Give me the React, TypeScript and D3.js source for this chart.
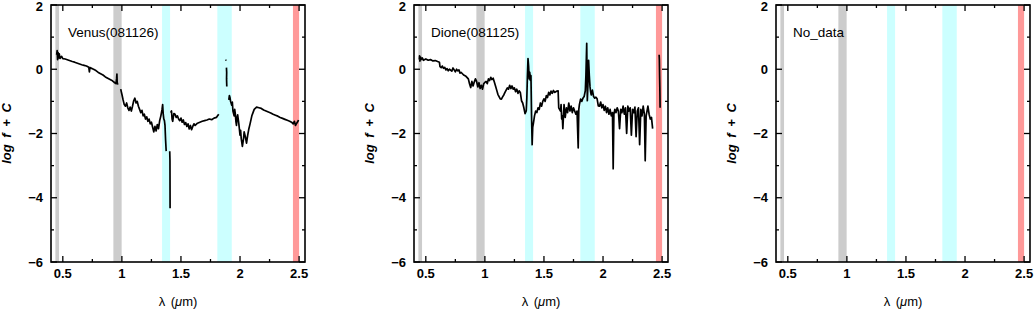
import React from 'react';
import * as d3 from 'd3';

// spectra: wavelength (um) and log flux, null = gap in the data
const venusLambda = [
  0.448, 0.452, 0.456, 0.46, 0.465, 0.47, 0.476, 0.49, 0.5, 0.52, 0.55, 0.58, 0.6, 0.63, 0.66, 0.68, 0.7, 0.72,
  0.725, 0.73, 0.76, 0.78, 0.8, 0.82, 0.84, 0.86, 0.88, 0.9, 0.92, 0.94, 0.95, 0.955, 0.958, 0.96, 0.965, 0.975,
  0.99, 1.0, 1.01, 1.02, 1.03, 1.04, 1.05, 1.06, 1.07, 1.08, 1.09, 1.1, 1.11, 1.12, 1.13, 1.14, 1.15, 1.16,
  1.17, 1.18, 1.19, 1.2, 1.21, 1.22, 1.23, 1.24, 1.25, 1.26, 1.27, 1.28, 1.29, 1.3, 1.31, 1.32, 1.33, 1.34,
  1.345, 1.35, 1.355, 1.36, 1.365, 1.37, 1.375, 1.39,
  1.405, 1.407, 1.408, 1.41,
  1.413, 1.42, 1.425, 1.43, 1.44, 1.45, 1.46, 1.47, 1.48, 1.49, 1.5, 1.51, 1.52, 1.53, 1.54, 1.55, 1.56,
  1.57, 1.58, 1.59, 1.6, 1.61, 1.62, 1.64, 1.66, 1.68, 1.7, 1.72, 1.74, 1.76, 1.78, 1.8, 1.81, 1.82, 1.85,
  1.88, 1.881, 1.883,
  1.885, 1.887, 1.886, 1.888, 1.895,
  1.905, 1.91, 1.915, 1.92, 1.93, 1.935, 1.94, 1.95, 1.955, 1.96, 1.965, 1.97, 1.975, 1.98, 1.99, 2.0, 2.005,
  2.01, 2.02, 2.03, 2.035, 2.045, 2.055, 2.065, 2.075, 2.085, 2.1, 2.11, 2.12, 2.14, 2.16, 2.18, 2.2, 2.22,
  2.24, 2.26, 2.28, 2.3, 2.32, 2.34, 2.36, 2.38, 2.4, 2.42, 2.44, 2.45, 2.46, 2.47, 2.48, 2.49, 2.495,
];
const venusFlux = [
  0.45, 0.58, 0.3, 0.52, 0.35, 0.48, 0.34, 0.4, 0.33, 0.32, 0.28, 0.24, 0.22, 0.18, 0.14, 0.12, 0.1, 0.06,
  -0.08, 0.05, 0.0, -0.04, -0.1, -0.14, -0.18, -0.24, -0.28, -0.32, -0.36, -0.42, -0.45, -0.3, -0.15, -0.4, -0.48, null,
  -0.62, -0.78, -0.95, -1.1, -1.15, -1.05, -1.2, -1.28, -1.18, -1.3, -1.15, -0.98, -0.9, -1.05, -1.0, -1.15, -1.25, -1.35,
  -1.28, -1.45, -1.4, -1.55, -1.48, -1.62, -1.55, -1.7, -1.65, -1.8, -1.95, -1.78, -1.92, -1.72, -1.85, -1.6, -1.45, -1.25,
  -1.1, -1.4, -1.55, -1.6, -1.75, -2.2, -2.55, null,
  -2.55, -2.85, -4.33, null,
  -1.35, -1.3, -1.55, -1.62, -1.38, -1.4, -1.5, -1.45, -1.55, -1.6, -1.52, -1.65, -1.58, -1.72, -1.66, -1.78, -1.7,
  -1.86, -1.75, -1.88, -1.78, -1.7, -1.75, -1.68, -1.65, -1.62, -1.6, -1.58, -1.55, -1.57, -1.52, -1.5, -1.45, -1.4, null,
  0.3, 0.27, null,
  0.05, -0.1, -0.3, -0.54, null,
  -0.95, -0.82, -0.88, -1.0, -1.12, -1.02, -1.3, -1.45, -1.25, -1.38, -1.62, -1.75, -1.5, -1.42, -1.7, -2.05, -1.9,
  -2.15, -2.4, -2.15, -1.95, -2.1, -2.3, -2.05, -1.85, -1.7, -1.45, -1.35, -1.25, -1.18, -1.2, -1.22, -1.27, -1.3,
  -1.33, -1.36, -1.4, -1.43, -1.46, -1.5, -1.53, -1.56, -1.59, -1.62, -1.66, -1.7, -1.62, -1.75, -1.68, -1.62, -1.58,
];

const dioneLambda = [
  0.445, 0.447, 0.45, 0.455, 0.46, 0.47, 0.48, 0.5, 0.52, 0.54, 0.56, 0.58, 0.6, 0.615, 0.62, 0.63, 0.64, 0.65,
  0.66, 0.67, 0.68, 0.69, 0.7, 0.72, 0.73, 0.74, 0.75, 0.76, 0.77, 0.78, 0.79, 0.8, 0.82, 0.84, 0.86, 0.87,
  0.88, 0.89, 0.9, 0.91, 0.92, 0.93, 0.94, 0.95, 0.96, 0.97, 0.98, 0.99, 1.0, 1.01, 1.02, 1.03, 1.04, 1.05,
  1.06, 1.07, 1.08, 1.09, 1.1, 1.11, 1.12, 1.13, 1.14, 1.15, 1.16, 1.17, 1.18, 1.19, 1.2, 1.21, 1.22, 1.23,
  1.24, 1.25, 1.26, 1.27, 1.28, 1.29, 1.3, 1.31, 1.32, 1.33, 1.34, 1.35, 1.355, 1.36, 1.365, 1.37, 1.375, 1.38,
  1.385, 1.39, 1.395, 1.4, 1.405, 1.41, 1.42, 1.43, 1.44, 1.45, 1.46, 1.47, 1.48, 1.49, 1.5, 1.51, 1.52,
  1.53, 1.54, 1.55, 1.56, 1.57, 1.58, 1.59, 1.6, 1.61, 1.62, 1.625, 1.64, 1.645, 1.65, 1.655, 1.66, 1.67, 1.68,
  1.69, 1.7, 1.71, 1.72, 1.73, 1.74, 1.75, 1.76, 1.77, 1.78, 1.79, 1.795, 1.8, 1.81, 1.82, 1.83, 1.84, 1.85,
  1.855, 1.862, 1.867, 1.872, 1.878, 1.884, 1.89, 1.895, 1.9, 1.91, 1.92, 1.93, 1.94, 1.95, 1.96, 1.97, 1.98,
  1.99, 2.0, 2.01, 2.02, 2.03, 2.04, 2.05, 2.06, 2.07, 2.08, 2.086, 2.092, 2.1, 2.11, 2.12, 2.13, 2.14, 2.15,
  2.16, 2.17, 2.18, 2.19, 2.2, 2.21, 2.22, 2.23, 2.24, 2.25, 2.26, 2.27, 2.28, 2.29, 2.3, 2.31, 2.32, 2.33,
  2.34, 2.35, 2.357, 2.365, 2.38, 2.39, 2.4, 2.41, 2.42, 2.45,
  2.475, 2.477, 2.479, 2.481, 2.483,
];
const dioneFlux = [
  0.3, 0.42, 0.25, 0.38, 0.3, 0.35, 0.28, 0.32, 0.28, 0.3, 0.26, 0.27, 0.24, 0.22, 0.08, 0.05, 0.1, 0.03,
  0.06, -0.02, 0.02, -0.05, 0.0, -0.06, 0.04, -0.02, -0.08, 0.0, -0.05, -0.02, -0.12, -0.1, -0.18, -0.22, -0.3, -0.45,
  -0.57, -0.38, -0.52, -0.4, -0.3, -0.38, -0.55, -0.42, -0.6, -0.5, -0.62, -0.45, -0.41, -0.38, -0.45, -0.3, -0.35, -0.25,
  -0.32, -0.28, -0.4, -0.52, -0.65, -0.78, -0.85, -0.92, -0.93, -0.86, -0.8, -0.72, -0.65, -0.58, -0.62, -0.5, -0.6, -0.52,
  -0.62, -0.58, -0.7, -0.62, -0.75, -0.67, -0.72, -0.98, -1.05, -1.2, -1.38, -1.3, -0.9, -0.2, 0.33, 0.1, -0.3, -0.1,
  -0.35, -0.2, -1.45, -2.35, -1.8, -1.7, -1.45, -1.3, -1.35, -1.2, -1.25, -1.05, -1.15, -1.0, -0.92, -1.0, -0.82,
  -0.88, -0.72, -0.8, -0.68, -0.75, -0.66, -0.72, -0.7, -0.68, -0.67, -1.2, -1.3, -1.1, -1.55, -1.45, -1.85, -1.1, -1.5,
  -1.2, -1.35, -1.05, -1.3, -1.15, -1.35, -1.2, -1.3, -1.4, -1.3, -2.45, -1.25, -1.1, -0.93, -1.0, -0.9, -0.85, -0.67,
  -0.2, 0.81, -0.98, -0.5, 0.28, -0.2, -0.55, -0.7, -0.8, -0.65, -0.85, -0.9, -0.87, -0.92, -1.14, -1.15, -1.02,
  -1.2, -1.1, -1.28, -1.15, -1.35, -1.2, -1.4, -1.25, -1.45, -1.35, -3.1, -1.4, -1.25, -1.35, -1.2, -1.3, -1.85, -1.25,
  -1.35, -1.15, -1.4, -1.2, -2.0, -1.15, -1.3, -1.2, -2.05, -1.25, -1.35, -1.18, -2.1, -1.3, -1.2, -2.35, -1.25, -1.45,
  -1.15, -1.4, -2.85, -1.45, -1.15, -1.4, -1.55, -1.5, -1.85, null,
  0.45, 0.3, -0.2, -0.6, -1.2,
];

const panelNames = ['Venus(081126)', 'Dione(081125)', 'No_data'];
const panelLambda = [venusLambda, dioneLambda, [] as number[]];
const panelFlux = [venusFlux, dioneFlux, [] as (number | null)[]];

// shaded wavelength bands
const bandStart = [0.437, 0.928, 1.34, 1.808, 2.448];
const bandEnd = [0.468, 0.998, 1.408, 1.93, 2.5];
const bandKind = ['gray', 'gray', 'water', 'water', 'edge'];

const xMajor = [0.5, 1, 1.5, 2, 2.5];
const xMajorLabels = ['0.5', '1', '1.5', '2', '2.5'];
const xMinor = [0.75, 1.25, 1.75, 2.25];
const yMajor = [2, 0, -2, -4, -6];
const yMajorLabels = ['2', '0', '\u22122', '\u22124', '\u22126'];
const yMinor = [1, -1, -3, -5];

const bandColor: Record<string, string> = { gray: '#cccccc', water: '#ccffff', edge: '#ff9999' };

const W = 1035;
const H = 310;
const panelLeft = [51, 414, 776];
const panelW = 254;
const top = 5;
const bottom = 262;
const font = '"Liberation Sans", Arial, Helvetica, sans-serif';

function Panel({ idx }: { idx: number }) {
  const left = panelLeft[idx];
  const x = d3.scaleLinear().domain([0.4, 2.55]).range([left, left + panelW]);
  const y = d3.scaleLinear().domain([-6, 2]).range([bottom, top]);

  const pts = panelLambda[idx].map((l, i) => [l, panelFlux[idx][i]] as [number, number | null]);
  const line = d3
    .line<[number, number | null]>()
    .defined((d) => d[1] !== null)
    .x((d) => x(d[0]))
    .y((d) => y(d[1] as number));

  const major = 6;
  const minor = 3;

  return (
    <g>
      {bandStart.map((s, i) => (
        <rect
          key={i}
          x={x(s)}
          y={top}
          width={x(bandEnd[i]) - x(s)}
          height={bottom - top}
          fill={bandColor[bandKind[i]]}
        />
      ))}
      {pts.length > 0 && (
        <path d={line(pts) || ''} fill="none" stroke="#000" strokeWidth={1.7} strokeLinejoin="round" />
      )}
      <rect x={left} y={top} width={panelW} height={bottom - top} fill="none" stroke="#000" strokeWidth={1.6} />

      {xMajor.map((t) => (
        <g key={'xm' + t}>
          <line x1={x(t)} x2={x(t)} y1={bottom} y2={bottom - major} stroke="#000" strokeWidth={1.3} />
          <line x1={x(t)} x2={x(t)} y1={top} y2={top + major} stroke="#000" strokeWidth={1.3} />
        </g>
      ))}
      {xMinor.map((t) => (
        <g key={'xn' + t}>
          <line x1={x(t)} x2={x(t)} y1={bottom} y2={bottom - minor} stroke="#000" strokeWidth={1.3} />
          <line x1={x(t)} x2={x(t)} y1={top} y2={top + minor} stroke="#000" strokeWidth={1.3} />
        </g>
      ))}
      {yMajor.map((t) => (
        <g key={'ym' + t}>
          <line x1={left} x2={left + major} y1={y(t)} y2={y(t)} stroke="#000" strokeWidth={1.3} />
          <line x1={left + panelW} x2={left + panelW - major} y1={y(t)} y2={y(t)} stroke="#000" strokeWidth={1.3} />
        </g>
      ))}
      {yMinor.map((t) => (
        <g key={'yn' + t}>
          <line x1={left} x2={left + minor} y1={y(t)} y2={y(t)} stroke="#000" strokeWidth={1.3} />
          <line x1={left + panelW} x2={left + panelW - minor} y1={y(t)} y2={y(t)} stroke="#000" strokeWidth={1.3} />
        </g>
      ))}

      {xMajor.map((t, i) => (
        <text key={'xl' + t} x={x(t)} y={278} textAnchor="middle" fontSize={13} fontWeight="bold" fontFamily={font}>
          {xMajorLabels[i]}
        </text>
      ))}
      {yMajor.map((t, i) => (
        <text
          key={'yl' + t}
          x={left - 8}
          y={Math.max(y(t), 6)}
          dy="0.36em"
          textAnchor="end"
          fontSize={13}
          fontWeight="bold"
          fontFamily={font}
        >
          {yMajorLabels[i]}
        </text>
      ))}

      <text x={left + 17} y={37} fontSize={13.5} fontFamily={font}>
        {panelNames[idx]}
      </text>
      <text x={left + panelW / 2} y={306} textAnchor="middle" fontSize={13} fontFamily={font} wordSpacing={2}>
        {'\u03bb ('}
        <tspan fontStyle="italic">{'\u03bc'}</tspan>
        {'m)'}
      </text>
      <text
        transform={`translate(${left - 40},${(top + bottom) / 2}) rotate(-90)`}
        textAnchor="middle"
        fontSize={13}
        fontWeight="bold"
        fontStyle="italic"
        fontFamily={font}
        wordSpacing={3}
      >
        log f + C
      </text>
    </g>
  );
}

export default function App() {
  return (
    <svg
      width={W}
      height={H}
      viewBox={`0 0 ${W} ${H}`}
      style={{ position: 'absolute', left: 0, top: 0, background: '#fff' }}
    >
      {panelNames.map((_, i) => (
        <Panel key={i} idx={i} />
      ))}
    </svg>
  );
}
